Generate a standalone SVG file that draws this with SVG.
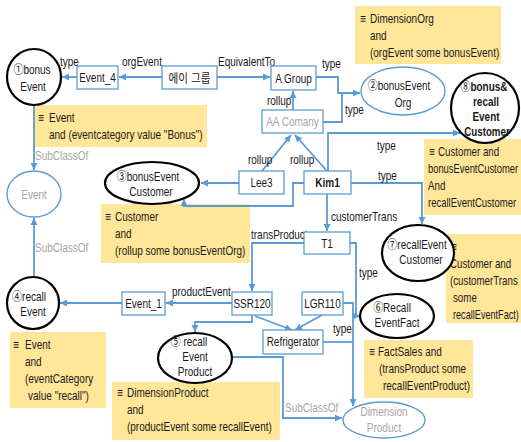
<svg xmlns="http://www.w3.org/2000/svg" width="521" height="442" viewBox="0 0 521 442">
  <defs>
    <marker id="arr" markerUnits="userSpaceOnUse" markerWidth="8" markerHeight="8" refX="7" refY="4" orient="auto">
      <path d="M0,0.5 L7,4 L0,7.5 z" fill="#5b9bd5"/>
    </marker>
    <style>
      text { font-family: "Liberation Sans", "Noto Sans CJK KR", sans-serif; font-size: 12.5px; fill: #1a1a1a; }
      .c { text-anchor: middle; }
      .g { fill: #a6a6a6; }
      .b { font-weight: bold; }
      .box { fill: #ffffff; stroke: #5b9bd5; stroke-width: 1.3; }
      .cls { fill: #ffffff; stroke: #000000; stroke-width: 2.2; }
      .cls2 { fill: #ffffff; stroke: #5b9bd5; stroke-width: 1.4; }
      .note { fill: #ffe699; }
      .ln { fill: none; stroke: #5b9bd5; stroke-width: 1.8; }
      .arw { marker-end: url(#arr); }
    </style>
  </defs>
  <rect width="521" height="442" fill="#ffffff"/>

  <!-- definition notes (text is narrowed horizontally with scale(.8,1)) -->
  <g id="note-dimensionorg">
    <rect class="note" x="355" y="6" width="146" height="58"/>
    <text transform="translate(360,23) scale(.8,1)">≡</text><text transform="translate(370,23) scale(.8,1)">DimensionOrg</text>
    <text transform="translate(370,40) scale(.8,1)">and</text>
    <text transform="translate(370,57) scale(.8,1)">(orgEvent some bonusEvent)</text>
  </g>
  <g id="note-bonusevent">
    <rect class="note" x="33" y="105" width="174" height="42"/>
    <text transform="translate(38,122) scale(.8,1)">≡</text><text transform="translate(49,122) scale(.8,1)">Event</text>
    <text transform="translate(49,139) scale(.8,1)">and (eventcategory value "Bonus")</text>
  </g>
  <g id="note-bonuseventcustomer">
    <rect class="note" x="101" y="204" width="149" height="59"/>
    <text transform="translate(105,221) scale(.8,1)">≡</text><text transform="translate(115,221) scale(.8,1)">Customer</text>
    <text transform="translate(115,238) scale(.8,1)">and</text>
    <text transform="translate(115,255) scale(.8,1)">(rollup some bonusEventOrg)</text>
  </g>
  <g id="note-bonusrecall">
    <rect class="note" x="424" y="139" width="97" height="76"/>
    <text transform="translate(429,156) scale(.78,1)">≡</text><text transform="translate(438,156) scale(.78,1)">Customer and</text>
    <text transform="translate(428,173) scale(.75,1)">bonusEventCustomer</text>
    <text transform="translate(428,190) scale(.78,1)">And</text>
    <text transform="translate(428,207) scale(.76,1)">recallEventCustomer</text>
  </g>
  <g id="note-recalleventcustomer">
    <rect class="note" x="446" y="234" width="75" height="89"/>
    <text transform="translate(451,251) scale(.78,1)">≡</text>
    <text transform="translate(450,268) scale(.78,1)">Customer and</text>
    <text transform="translate(450,285) scale(.78,1)">(customerTrans</text>
    <text transform="translate(453,302) scale(.78,1)">some</text>
    <text transform="translate(453,319) scale(.73,1)">recallEventFact)</text>
  </g>
  <g id="note-recallevent">
    <rect class="note" x="10" y="332" width="96" height="76"/>
    <text transform="translate(13,349) scale(.8,1)">≡</text><text transform="translate(25,349) scale(.8,1)">Event</text>
    <text transform="translate(25,366) scale(.8,1)">and</text>
    <text transform="translate(25,383) scale(.8,1)">(eventCategory</text>
    <text transform="translate(28,400) scale(.8,1)">value "recall")</text>
  </g>
  <g id="note-recalleventproduct">
    <rect class="note" x="112" y="382" width="168" height="58"/>
    <text transform="translate(117,397) scale(.8,1)">≡</text><text transform="translate(127,397) scale(.8,1)">DimensionProduct</text>
    <text transform="translate(127,414) scale(.8,1)">and</text>
    <text transform="translate(127,431) scale(.8,1)">(productEvent some recallEvent)</text>
  </g>
  <g id="note-recalleventfact">
    <rect class="note" x="364" y="340" width="109" height="58"/>
    <text transform="translate(369,356) scale(.8,1)">≡</text><text transform="translate(378,356) scale(.8,1)">FactSales and</text>
    <text transform="translate(379,373) scale(.8,1)">(transProduct some</text>
    <text transform="translate(383,390) scale(.8,1)">recallEventProduct)</text>
  </g>

  <!-- connectors -->
  <g id="connectors">
    <path class="ln arw" d="M162,77 H119"/>
    <path class="ln arw" d="M77,77 H62"/>
    <path class="ln arw" d="M217,77 H270"/>
    <path class="ln arw" d="M316,77 H338 V93 H360"/>
    <path class="ln" d="M323,122 H342 V93"/>
    <path class="ln arw" d="M293,110 V91"/>
    <path class="ln arw" d="M262,171 L291,135"/>
    <path class="ln arw" d="M327,171 L295,135"/>
    <path class="ln arw" d="M239,183 H201"/>
    <path class="ln arw" d="M304,183 H293 V206 H184 V199"/>
    <path class="ln arw" d="M328,171 V133 H460"/>
    <path class="ln arw" d="M351,183 H422 V224"/>
    <path class="ln arw" d="M327,194 V231"/>
    <path class="ln arw" d="M304,243 H252 V291"/>
    <path class="ln arw" d="M350,243 H356 V316 H360"/>
    <path class="ln arw" d="M232,303 H166"/>
    <path class="ln arw" d="M122,303 H60"/>
    <path class="ln arw" d="M252,315 V322 H195 V332"/>
    <path class="ln arw" d="M255,316 L292,330"/>
    <path class="ln arw" d="M322,315 L295,330"/>
    <path class="ln arw" d="M343,303 H353 V406"/>
    <path class="ln" d="M323,342 H353"/>
    <path class="ln arw" d="M232,357 H283 V418 H342"/>
    <path class="ln arw" d="M34,105 V170"/>
    <path class="ln arw" d="M34,277 V218"/>

    <text transform="translate(60,66) scale(.8,1)">type</text>
    <text transform="translate(122,66) scale(.8,1)">orgEvent</text>
    <text transform="translate(218,66) scale(.8,1)">EquivalentTo</text>
    <text transform="translate(322,68) scale(.8,1)">type</text>
    <text transform="translate(345,114) scale(.8,1)">type</text>
    <text transform="translate(267,105) scale(.8,1)">rollup</text>
    <text transform="translate(248,164) scale(.8,1)">rollup</text>
    <text transform="translate(290,164) scale(.8,1)">rollup</text>
    <text transform="translate(377,150) scale(.8,1)">type</text>
    <text transform="translate(378,180) scale(.8,1)">type</text>
    <text transform="translate(331,221) scale(.8,1)">customerTrans</text>
    <text transform="translate(251,239) scale(.8,1)">transProduct</text>
    <text transform="translate(359,277) scale(.8,1)">type</text>
    <text transform="translate(172,296) scale(.8,1)">productEvent</text>
    <text transform="translate(333,333) scale(.8,1)">type</text>
    <text class="g" transform="translate(35,160) scale(.8,1)">SubClassOf</text>
    <text class="g" transform="translate(35,252) scale(.8,1)">SubClassOf</text>
    <text class="g" transform="translate(285,412) scale(.8,1)">SubClassOf</text>
  </g>

  <!-- nodes -->
  <g id="bonus-event">
    <ellipse class="cls" cx="34" cy="77" rx="27" ry="28"/>
    <text class="c" transform="translate(32,74) scale(.8,1)">①bonus</text>
    <text class="c" transform="translate(33,91) scale(.8,1)">Event</text>
  </g>
  <g id="event-4">
    <rect class="box" x="77" y="66" width="41" height="23"/>
    <text class="c" transform="translate(97.5,82) scale(.8,1)">Event_4</text>
  </g>
  <g id="a-group-ko">
    <rect class="box" x="162" y="66" width="55" height="23"/>
    <text class="c" x="189.5" y="83" textLength="42" lengthAdjust="spacingAndGlyphs">에이 그룹</text>
  </g>
  <g id="a-group">
    <rect class="box" x="271" y="66" width="45" height="24"/>
    <text class="c" transform="translate(293.5,83) scale(.8,1)">A Group</text>
  </g>
  <g id="bonus-event-org">
    <ellipse class="cls2" cx="403" cy="91" rx="42" ry="24"/>
    <text class="c" transform="translate(399,90) scale(.8,1)">②bonusEvent</text>
    <text class="c" transform="translate(403,107) scale(.8,1)">Org</text>
  </g>
  <g id="bonus-recall-event-customer">
    <ellipse class="cls" cx="485" cy="108" rx="34" ry="35"/>
    <text class="c" transform="translate(484,91) scale(.8,1)"><tspan>⑧</tspan><tspan class="b">bonus&amp;</tspan></text>
    <text class="c b" transform="translate(486,106) scale(.8,1)">recall</text>
    <text class="c b" transform="translate(486,121) scale(.8,1)">Event</text>
    <text class="c b" transform="translate(487,136) scale(.78,1)">Customer</text>
  </g>
  <g id="aa-company">
    <rect class="box" x="262" y="110" width="61" height="23"/>
    <text class="c g" transform="translate(292.5,126) scale(.8,1)">AA Comany</text>
  </g>
  <g id="event">
    <ellipse class="cls2" cx="34" cy="194" rx="27" ry="23"/>
    <text class="c g" transform="translate(34,199) scale(.8,1)">Event</text>
  </g>
  <g id="bonus-event-customer">
    <ellipse class="cls" cx="152" cy="183" rx="47" ry="21"/>
    <text class="c" transform="translate(148,181) scale(.8,1)">③bonusEvent</text>
    <text class="c" transform="translate(151,196) scale(.8,1)">Customer</text>
  </g>
  <g id="lee3">
    <rect class="box" x="239" y="171" width="45" height="23"/>
    <text class="c" transform="translate(261.5,187) scale(.8,1)">Lee3</text>
  </g>
  <g id="kim1">
    <rect class="box" x="304" y="171" width="47" height="23"/>
    <text class="c b" transform="translate(327.5,187) scale(.8,1)">Kim1</text>
  </g>
  <g id="t1">
    <rect class="box" x="304" y="232" width="46" height="22"/>
    <text class="c" transform="translate(327,248) scale(.8,1)">T1</text>
  </g>
  <g id="recall-event-customer">
    <ellipse class="cls" cx="418" cy="253" rx="36" ry="28"/>
    <text class="c" transform="translate(417,249) scale(.8,1)">⑦recallEvent</text>
    <text class="c" transform="translate(421,264) scale(.8,1)">Customer</text>
  </g>
  <g id="event-1">
    <rect class="box" x="122" y="292" width="43" height="23"/>
    <text class="c" transform="translate(143.5,308) scale(.8,1)">Event_1</text>
  </g>
  <g id="ssr120">
    <rect class="box" x="232" y="292" width="40" height="23"/>
    <text class="c" transform="translate(252,308) scale(.8,1)">SSR120</text>
  </g>
  <g id="lgr110">
    <rect class="box" x="302" y="292" width="41" height="23"/>
    <text class="c" transform="translate(322.5,308) scale(.8,1)">LGR110</text>
  </g>
  <g id="recall-event">
    <ellipse class="cls" cx="33" cy="303" rx="26" ry="26"/>
    <text class="c" transform="translate(29,301) scale(.8,1)">④recall</text>
    <text class="c" transform="translate(33,316) scale(.8,1)">Event</text>
  </g>
  <g id="recall-event-fact">
    <ellipse class="cls" cx="397" cy="316" rx="37" ry="22"/>
    <text class="c" transform="translate(392,312) scale(.8,1)">⑥Recall</text>
    <text class="c" transform="translate(397,327) scale(.8,1)">EventFact</text>
  </g>
  <g id="refrigerator">
    <rect class="box" x="263" y="330" width="60" height="24"/>
    <text class="c" transform="translate(293,346) scale(.8,1)">Refrigerator</text>
  </g>
  <g id="recall-event-product">
    <ellipse class="cls" cx="195" cy="358" rx="37" ry="25"/>
    <text class="c" transform="translate(189,346) scale(.8,1)">⑤ recall</text>
    <text class="c" transform="translate(195,361) scale(.8,1)">Event</text>
    <text class="c" transform="translate(195,376) scale(.8,1)">Product</text>
  </g>
  <g id="dimension-product">
    <ellipse class="cls2" cx="384" cy="420" rx="41" ry="18"/>
    <text class="c g" transform="translate(384,416) scale(.8,1)">Dimension</text>
    <text class="c g" transform="translate(384,432) scale(.8,1)">Product</text>
  </g>
</svg>
